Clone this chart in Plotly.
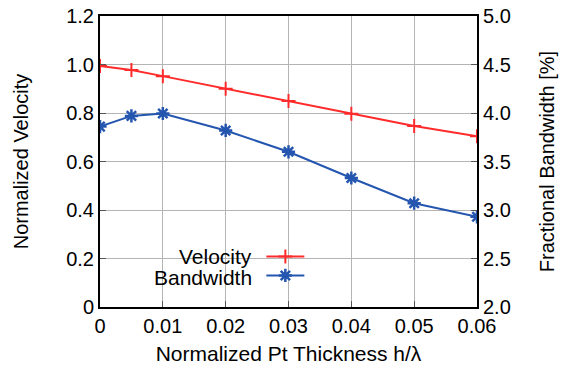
import plotly.graph_objects as go

thickness = [0, 0.005, 0.01, 0.02, 0.03, 0.04, 0.05, 0.06]
velocity = [0.994, 0.977, 0.952, 0.900, 0.849, 0.797, 0.746, 0.704]
bandwidth = [3.86, 3.97, 3.995, 3.82, 3.60, 3.33, 3.07, 2.93]

x_ticks = [0, 0.01, 0.02, 0.03, 0.04, 0.05, 0.06]
y_ticks = [0, 0.2, 0.4, 0.6, 0.8, 1.0, 1.2]
y2_ticks = [2.0, 2.5, 3.0, 3.5, 4.0, 4.5, 5.0]

RED = "#ff2a2a"
BLUE = "#2456b0"
FONT = "Liberation Sans, Arial, sans-serif"

fig = go.Figure()
fig.add_trace(go.Scatter(
    x=thickness, y=velocity, name=" ", mode="lines+markers",
    line=dict(color=RED, width=2),
    marker=dict(symbol="cross-thin-open", size=10, line=dict(color=RED, width=2)),
    yaxis="y",
))
fig.add_trace(go.Scatter(
    x=thickness, y=bandwidth, name=" ", mode="lines+markers",
    line=dict(color=BLUE, width=2),
    marker=dict(symbol="asterisk-open", size=11, line=dict(color=BLUE, width=2.5)),
    yaxis="y2",
))

fig.update_layout(
    width=570, height=372,
    margin=dict(l=100, r=93, t=16, b=65, autoexpand=False),
    paper_bgcolor="white", plot_bgcolor="white",
    font=dict(family=FONT, size=20, color="black"),
    showlegend=True,
    legend=dict(
        x=0.428, y=0.141, xanchor="left", yanchor="middle",
        font=dict(size=10), bgcolor="rgba(0,0,0,0)",
        itemwidth=38, tracegroupgap=0,
    ),
    xaxis=dict(
        range=[0, 0.06], tickvals=x_ticks, ticktext=[str(v) if v else "0" for v in x_ticks],
        showgrid=True, gridcolor="#b4b4b4", gridwidth=1,
        showline=True, linecolor="black", linewidth=2, mirror=True,
        ticks="inside", ticklen=6, tickcolor="#555555",
        zeroline=False, automargin=False,
        title=dict(text="Normalized Pt Thickness h/λ", standoff=10, font=dict(size=21)),
        tickfont=dict(size=20),
    ),
    yaxis=dict(
        range=[0, 1.2], tickvals=y_ticks, ticktext=["0", "0.2", "0.4", "0.6", "0.8", "1.0", "1.2"],
        showgrid=True, gridcolor="#b4b4b4", gridwidth=1,
        showline=True, linecolor="black", linewidth=2, mirror=True,
        ticks="inside", ticklen=6, tickcolor="#555555",
        zeroline=False, automargin=False,
        title=dict(text="Normalized Velocity", standoff=32, font=dict(size=20)),
        tickfont=dict(size=20),
    ),
    yaxis2=dict(
        range=[2.0, 5.0], tickvals=y2_ticks, ticktext=[f"{v:.1f}" for v in y2_ticks],
        overlaying="y", side="right", showgrid=False,
        showline=True, linecolor="black", linewidth=2,
        ticks="inside", ticklen=6, tickcolor="#555555",
        zeroline=False, automargin=False,
        title=dict(text="Fractional Bandwidth [%]", standoff=30, font=dict(size=20)),
        tickfont=dict(size=20),
    ),
    annotations=[
        dict(text="Velocity", xref="paper", yref="paper", x=0.408, y=0.175,
             xanchor="right", yanchor="middle", showarrow=False, font=dict(size=21)),
        dict(text="Bandwidth", xref="paper", yref="paper", x=0.408, y=0.103,
             xanchor="right", yanchor="middle", showarrow=False, font=dict(size=21)),
    ],
)

fig.write_html("out.html", config={"displayModeBar": False},
               post_script="document.body.style.margin='0';")
